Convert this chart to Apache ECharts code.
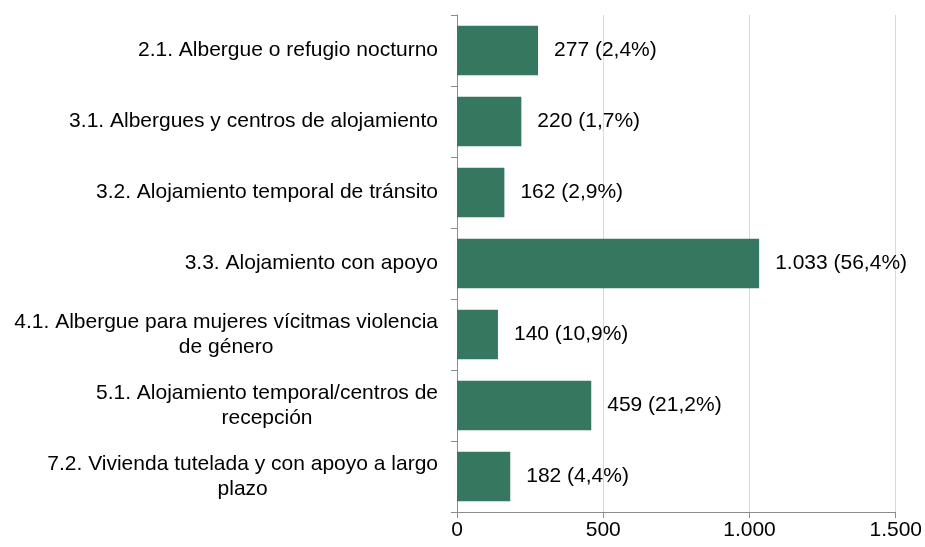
<!DOCTYPE html>
<html>
<head>
<meta charset="utf-8">
<script src="https://cdn.jsdelivr.net/npm/echarts@6/dist/echarts.min.js"></script>
<style>
  html, body { margin: 0; padding: 0; background: #fff; }
  #chart { width: 925px; height: 547px; }
</style>
</head>
<body>
<div id="chart"></div>
<script>
var categories = [
    ['2.1. Albergue o refugio nocturno'],
    ['3.1. Albergues y centros de alojamiento'],
    ['3.2. Alojamiento temporal de tránsito'],
    ['3.3. Alojamiento con apoyo'],
    ['4.1. Albergue para mujeres vícitmas violencia', 'de género'],
    ['5.1. Alojamiento temporal/centros de', 'recepción'],
    ['7.2. Vivienda tutelada y con apoyo a largo', 'plazo']
];
var values = [277, 220, 162, 1033, 140, 459, 182];
var shares = ['2,4', '1,7', '2,9', '56,4', '10,9', '21,2', '4,4'];
var xTicks = {0: '0', 500: '500', 1000: '1.000', 1500: '1.500'};

var font = 'Liberation Sans, Arial, sans-serif';

function fmtNum(v) {
    return String(v).replace(/\B(?=(\d{3})+(?!\d))/g, '.');
}

var chart = echarts.init(document.getElementById('chart'), null, {renderer: 'canvas'});

chart.setOption({
    animation: false,
    grid: {left: 457, right: 29, top: 15, bottom: 35, containLabel: false},
    xAxis: {
        type: 'value',
        min: 0,
        max: 1500,
        interval: 500,
        axisLine: {show: true, lineStyle: {color: '#8c8c8c', width: 1}},
        axisTick: {show: true, length: 6, lineStyle: {color: '#8c8c8c'}},
        splitLine: {show: true, lineStyle: {color: '#d9d9d9', width: 1}},
        axisLabel: {
            color: '#000',
            fontFamily: font,
            fontSize: 21,
            margin: 8,
            formatter: function (v) { return xTicks[v]; }
        }
    },
    yAxis: {
        type: 'category',
        inverse: true,
        data: categories.map(function (c) { return c.join('\n'); }),
        axisLine: {show: true, lineStyle: {color: '#8c8c8c', width: 1}},
        axisTick: {show: true, length: 6, lineStyle: {color: '#8c8c8c'}},
        axisLabel: {
            color: '#000',
            fontFamily: font,
            fontSize: 21,
            margin: 19,
            formatter: function (v) {
                return v.split('\n').map(function (s) { return '{c|' + s + '}'; }).join('\n');
            },
            rich: {
                c: {align: 'center', color: '#000', fontFamily: font, fontSize: 21, lineHeight: 25}
            }
        }
    },
    series: [{
        type: 'bar',
        data: values,
        barCategoryGap: '30%',
        itemStyle: {color: '#367760'},
        label: {
            show: true,
            position: 'right',
            distance: 16,
            color: '#000',
            fontFamily: font,
            fontSize: 21,
            formatter: function (p) {
                return fmtNum(p.value) + ' (' + shares[p.dataIndex] + '%)';
            }
        }
    }]
});
</script>
</body>
</html>
